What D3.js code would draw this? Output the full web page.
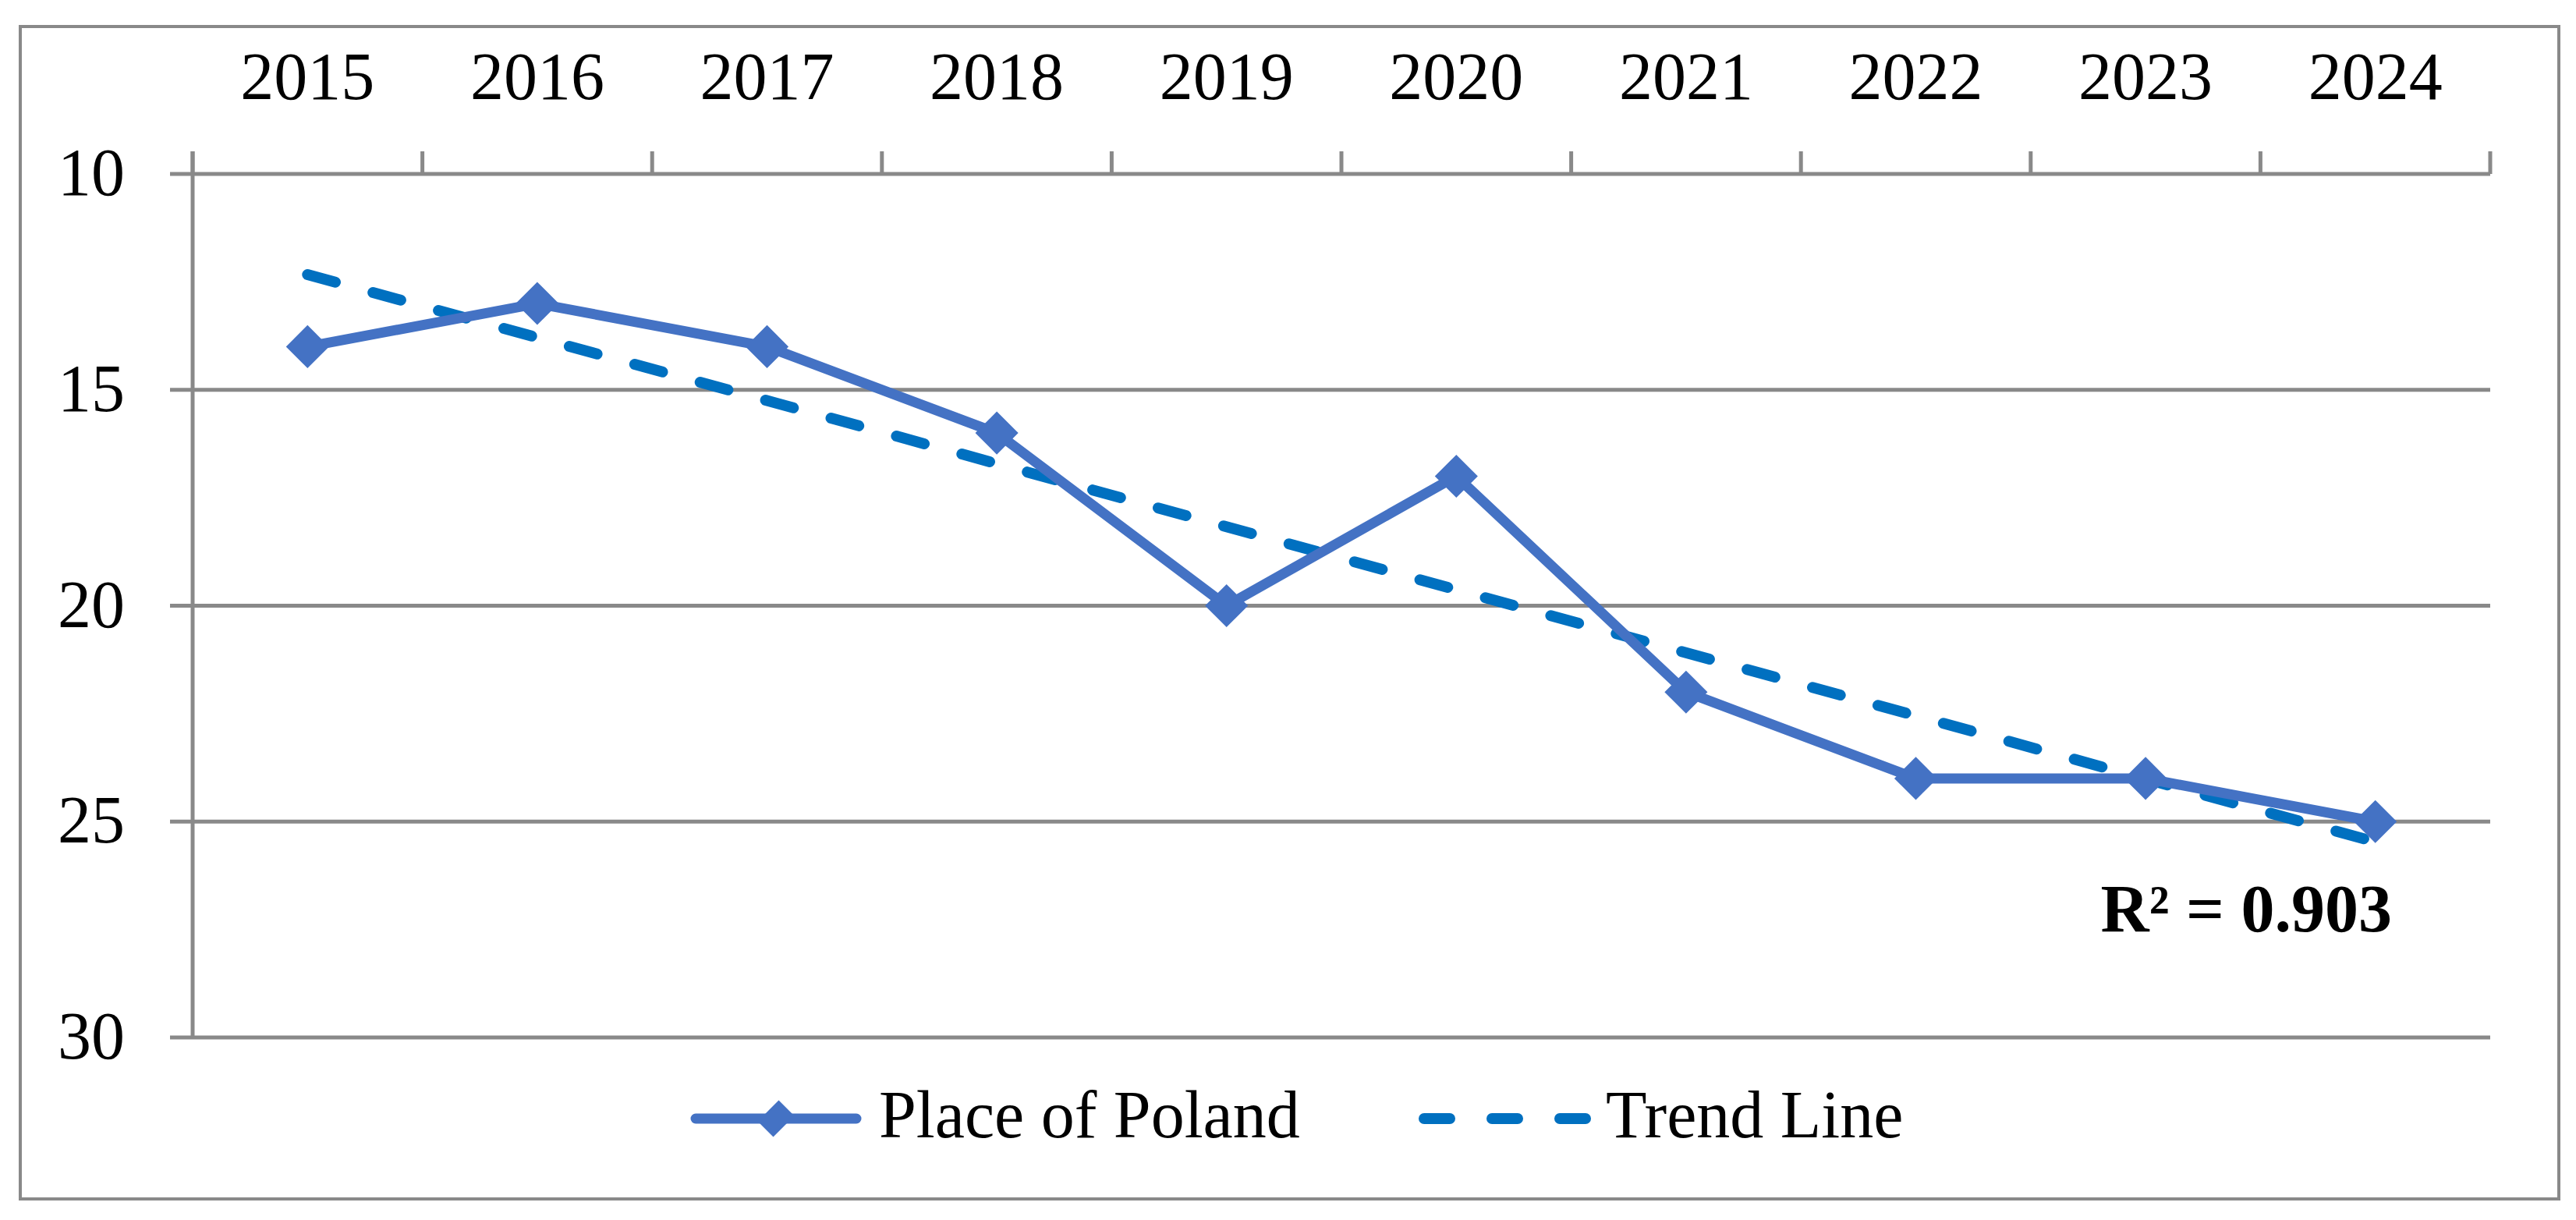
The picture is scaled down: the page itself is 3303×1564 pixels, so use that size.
<!DOCTYPE html>
<html>
<head>
<meta charset="utf-8">
<script src="https://cdn.jsdelivr.net/npm/d3@7"></script>
<style>
  html, body { margin: 0; padding: 0; background: #fff; }
  svg { display: block; }
  text { font-family: "Palatino Linotype", "Book Antiqua", Palatino, "Liberation Serif", "Times New Roman", serif; }
</style>
</head>
<body>
<svg id="chart" width="3303" height="1564"></svg>
<script>
// ---- data ----
const years = ["2015","2016","2017","2018","2019","2020","2021","2022","2023","2024"];
const placeOfPoland = [14, 13, 14, 16, 20, 17, 22, 24, 24, 25];
const trendYears = ["2015", "2024"];
const trendValues = [12.33, 25.47];
const yTicks = [10, 15, 20, 25, 30];
const seriesNames = ["Place of Poland", "Trend Line"];
const rSquaredLabel = "R² = 0.903";

// ---- layout ----
const plot = { left: 247, right: 3193, top: 223, bottom: 1330 };
const gridColor = "#898989";
const lineColor = "#4472C4";
const trendColor = "#0070C0";
const fontSize = 86;

const svg = d3.select("#chart");

const x = d3.scaleBand().domain(years).range([plot.left, plot.right]).padding(0);
const y = d3.scaleLinear().domain([10, 30]).range([plot.top, plot.bottom]);
const cx = d => x(d) + x.bandwidth() / 2;

// outer border
svg.append("rect")
  .attr("x", 26).attr("y", 34).attr("width", 3255).attr("height", 1503)
  .attr("fill", "#fff").attr("stroke", gridColor).attr("stroke-width", 4);

// horizontal gridlines (with outward ticks on the left)
svg.append("g").selectAll("line").data(yTicks).join("line")
  .attr("x1", plot.left - 29).attr("x2", plot.right)
  .attr("y1", d => y(d)).attr("y2", d => y(d))
  .attr("stroke", gridColor).attr("stroke-width", 5);

// vertical axis line
svg.append("line")
  .attr("x1", plot.left).attr("x2", plot.left)
  .attr("y1", plot.top - 29).attr("y2", y(30))
  .attr("stroke", gridColor).attr("stroke-width", 5);

// top category ticks at band boundaries
const boundaries = years.map(d => x(d)).concat([x(years[years.length - 1]) + x.bandwidth()]);
svg.append("g").selectAll("line").data(boundaries).join("line")
  .attr("x1", d => d).attr("x2", d => d)
  .attr("y1", plot.top - 29).attr("y2", plot.top)
  .attr("stroke", gridColor).attr("stroke-width", 5);

// x labels (top)
svg.append("g").selectAll("text").data(years).join("text")
  .attr("x", d => cx(d)).attr("y", 127)
  .attr("text-anchor", "middle")
  .attr("font-size", fontSize).attr("fill", "#000")
  .text(d => d);

// y labels
svg.append("g").selectAll("text").data(yTicks).join("text")
  .attr("x", 160).attr("y", d => y(d) + 27)
  .attr("text-anchor", "end")
  .attr("font-size", fontSize).attr("fill", "#000")
  .text(d => d);

// trend line
svg.append("path")
  .datum(trendYears.map((d, i) => [cx(d), y(trendValues[i])]))
  .attr("d", d3.line())
  .attr("fill", "none").attr("stroke", trendColor)
  .attr("stroke-width", 14).attr("stroke-linecap", "round")
  .attr("stroke-dasharray", "37,50");

// main series line
const pts = years.map((d, i) => [cx(d), y(placeOfPoland[i])]);
svg.append("path")
  .datum(pts)
  .attr("d", d3.line())
  .attr("fill", "none").attr("stroke", lineColor)
  .attr("stroke-width", 13).attr("stroke-linejoin", "round");

// diamond markers
const diamond = d3.symbol().type(d3.symbolSquare).size(1520);
svg.append("g").selectAll("path").data(pts).join("path")
  .attr("d", diamond)
  .attr("transform", d => `translate(${d[0]},${d[1]}) rotate(45)`)
  .attr("fill", lineColor);

// R² label
svg.append("text")
  .attr("x", 3067).attr("y", 1194)
  .attr("text-anchor", "end")
  .attr("font-size", fontSize).attr("font-weight", "bold").attr("fill", "#000")
  .text(rSquaredLabel);

// legend
const legY = 1434;
const leg = svg.append("g");
leg.append("line")
  .attr("x1", 892).attr("x2", 1098).attr("y1", legY).attr("y2", legY)
  .attr("stroke", lineColor).attr("stroke-width", 13).attr("stroke-linecap", "round");
leg.append("path")
  .attr("d", d3.symbol().type(d3.symbolSquare).size(1100))
  .attr("transform", `translate(995,${legY}) rotate(45) scale(0.85,1.15)`)
  .attr("fill", lineColor);
leg.append("text")
  .attr("x", 1127).attr("y", 1458)
  .attr("font-size", fontSize).attr("fill", "#000")
  .text(seriesNames[0]);
leg.append("line")
  .attr("x1", 1826).attr("x2", 2040).attr("y1", legY).attr("y2", legY)
  .attr("stroke", trendColor).attr("stroke-width", 14).attr("stroke-linecap", "round")
  .attr("stroke-dasharray", "33,54");
leg.append("text")
  .attr("x", 2059).attr("y", 1458)
  .attr("font-size", fontSize).attr("fill", "#000")
  .text(seriesNames[1]);
</script>
</body>
</html>
